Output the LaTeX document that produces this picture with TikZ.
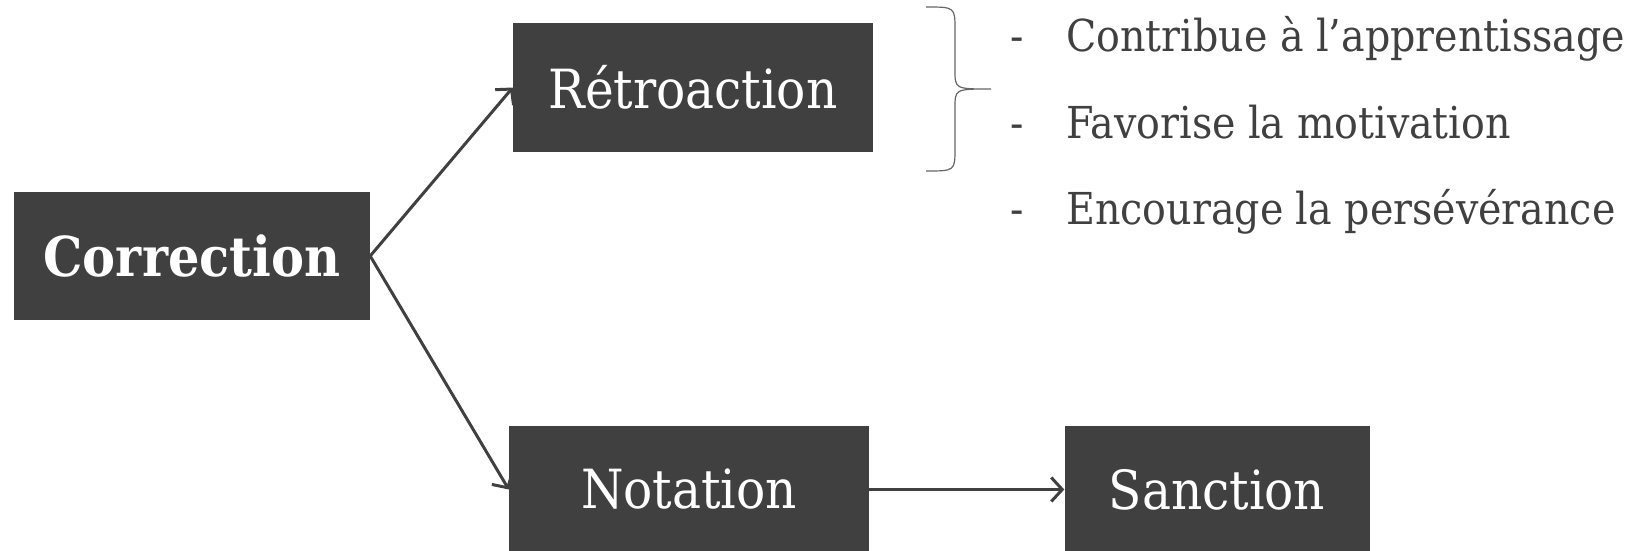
\documentclass[tikz,border=0pt]{standalone}
\usepackage{fontspec}
\setmainfont{DejaVu Serif Condensed}
\usetikzlibrary{arrows.meta}
\definecolor{boxgray}{HTML}{404040}

\begin{document}
\begin{tikzpicture}[x=1pt,y=-1pt,
  box/.style={fill=boxgray,text=white,inner sep=0pt,minimum width=#1,minimum height=128pt},
  boxfont/.style={font=\fontsize{54}{62}\selectfont},
  link/.style={draw=boxgray,line width=3pt,-{Straight Barb[length=11pt,width=24pt]}},
  item/.style={anchor=base west,text=boxgray,inner sep=0pt,font=\fontsize{44}{52}\selectfont}]
\useasboundingbox (0,0) rectangle (1638,551);

\node[box=356pt,font=\fontsize{55}{62}\selectfont\bfseries] (corr) at (192,256) {Correction};
\node[box=360pt,boxfont] (retro) at (693,87.5) {Rétroaction};
\node[box=360pt,boxfont] (note) at (689,489.5) {Notation};
\node[box=305pt,boxfont] (sanc) at (1217,489.5) {Sanction};

\draw[link] (corr.east) -- (retro.west);
\draw[link] (corr.east) -- (note.west);
\draw[link] (note.east) -- (sanc.west);

% accolade
\draw[boxgray!80,line width=1.2pt] (926,7) .. controls (955,7) .. (955,30) -- (955,70)
  .. controls (955,89) .. (991,89) .. controls (955,89) .. (955,108) -- (955,148)
  .. controls (955,171) .. (926,171);

\foreach \y/\txt [count=\i] in {52/Contribue à l’apprentissage,138/Favorise la motivation,224/Encourage la persévérance}{
  \node[item] (dash\i) at (1010,\y) {-};
  \node[item] (item\i) at (1066,\y) {\txt};
}

\end{tikzpicture}
\end{document}
